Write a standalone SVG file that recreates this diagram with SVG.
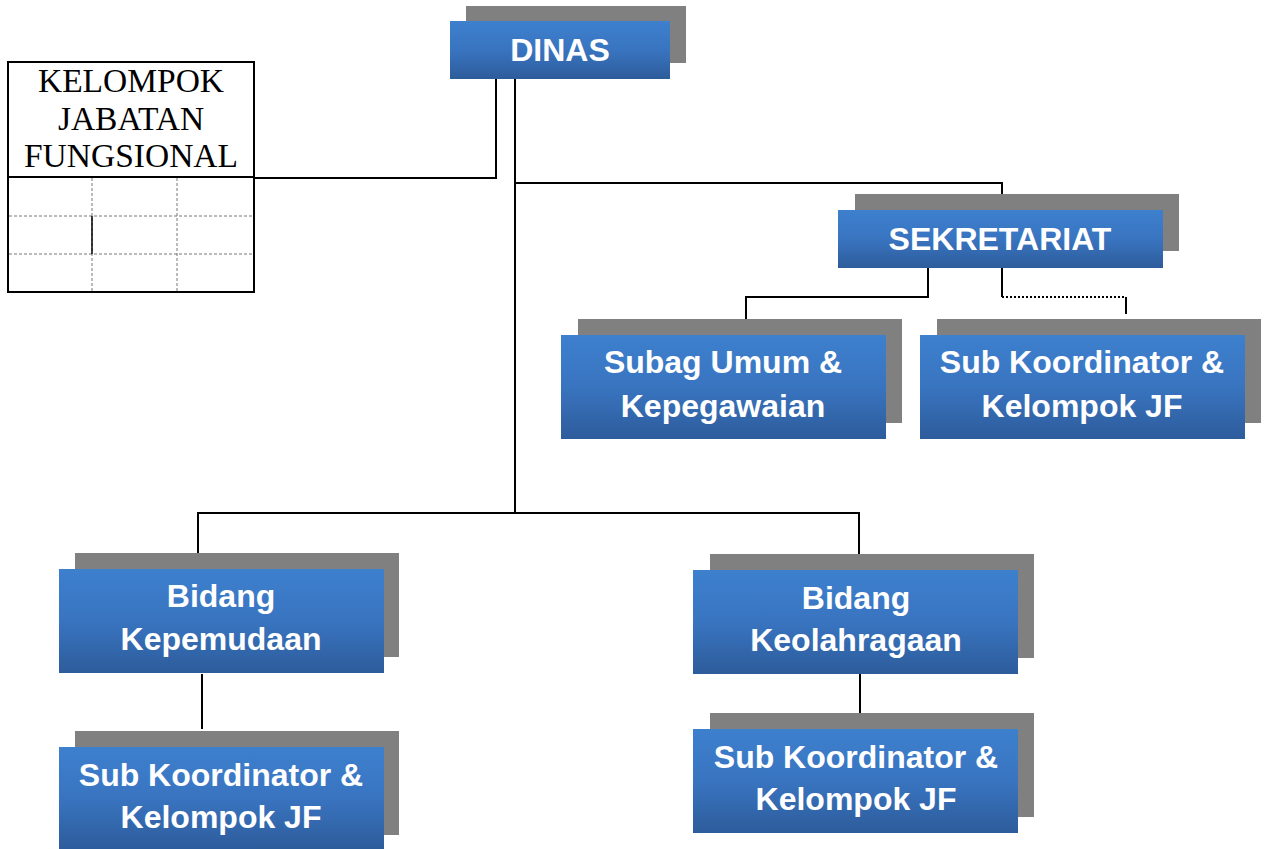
<svg xmlns="http://www.w3.org/2000/svg" width="1264" height="849" viewBox="0 0 1264 849">
<defs>
<linearGradient id="blue" x1="0" y1="0" x2="0" y2="1">
<stop offset="0" stop-color="#3d80ce"/>
<stop offset="0.5" stop-color="#3974c0"/>
<stop offset="1" stop-color="#2d5c9b"/>
</linearGradient>
</defs>
<style>
.sh{fill:#808080}
.bx{fill:url(#blue)}
.t{font-family:"Liberation Sans",Arial,sans-serif;font-weight:bold;font-size:32px;fill:#ffffff;text-anchor:middle}
.ln{stroke:#000;stroke-width:2;fill:none}
.dl{stroke:#000;stroke-width:2;fill:none;stroke-dasharray:2 2}
.grid{stroke:#777;stroke-width:1;stroke-dasharray:3 2;fill:none}
.st{font-family:"Liberation Serif","Times New Roman",serif;font-size:33.5px;fill:#000;text-anchor:middle}
</style>
<g id="connectors">
<path class="ln" d="M496 79 V178 H255"/>
<path class="ln" d="M515 79 V513"/>
<path class="ln" d="M515 183 H1002 V210"/>
<path class="ln" d="M928 268 V297 H746 V335"/>
<path class="ln" d="M1002 268 V297"/>
<path class="dl" d="M1002 297 H1126"/>
<path class="ln" d="M1126 297 V314"/>
<path class="ln" d="M198 569 V513 H859 V570"/>
<path class="ln" d="M202 674 V729"/>
<path class="ln" d="M860 674 V729"/>
</g>
<g id="kelompok-jf">
<rect x="8" y="62" width="246" height="230" fill="#fff" stroke="#000" stroke-width="2"/>
<line x1="8" y1="177" x2="254" y2="177" stroke="#000" stroke-width="2"/>
<line class="grid" x1="9" y1="216" x2="253" y2="216"/>
<line class="grid" x1="9" y1="254" x2="253" y2="254"/>
<line class="grid" x1="92" y1="178" x2="92" y2="291"/>
<line class="grid" x1="177" y1="178" x2="177" y2="291"/>
<line x1="92" y1="216" x2="92" y2="254" stroke="#000" stroke-width="1.5"/>
<text class="st" x="131" y="92">KELOMPOK</text>
<text class="st" x="131" y="130">JABATAN</text>
<text class="st" x="131" y="167">FUNGSIONAL</text>
</g>
<g id="dinas">
<rect class="sh" x="466" y="6" width="220" height="57"/>
<rect class="bx" x="450" y="21" width="220" height="58"/>
<text class="t" x="560" y="61">DINAS</text>
</g>
<g id="sekretariat">
<rect class="sh" x="855" y="194" width="324" height="57"/>
<rect class="bx" x="838" y="210" width="325" height="58"/>
<text class="t" x="1000" y="250">SEKRETARIAT</text>
</g>
<g id="subag-umum">
<rect class="sh" x="578" y="319" width="324" height="104"/>
<rect class="bx" x="561" y="335" width="325" height="104"/>
<text class="t" x="723" y="373">Subag Umum &amp;</text>
<text class="t" x="723" y="417">Kepegawaian</text>
</g>
<g id="subkoor-sekretariat">
<rect class="sh" x="937" y="319" width="324" height="104"/>
<rect class="bx" x="920" y="335" width="325" height="104"/>
<text class="t" x="1082" y="373">Sub Koordinator &amp;</text>
<text class="t" x="1082" y="417">Kelompok JF</text>
</g>
<g id="bidang-kepemudaan">
<rect class="sh" x="75" y="553" width="324" height="104"/>
<rect class="bx" x="59" y="569" width="325" height="104"/>
<text class="t" x="221" y="607">Bidang</text>
<text class="t" x="221" y="650">Kepemudaan</text>
</g>
<g id="bidang-keolahragaan">
<rect class="sh" x="710" y="554" width="324" height="104"/>
<rect class="bx" x="693" y="570" width="325" height="104"/>
<text class="t" x="856" y="609">Bidang</text>
<text class="t" x="856" y="651">Keolahragaan</text>
</g>
<g id="subkoor-kepemudaan">
<rect class="sh" x="75" y="731" width="324" height="104"/>
<rect class="bx" x="59" y="747" width="325" height="102"/>
<text class="t" x="221" y="786">Sub Koordinator &amp;</text>
<text class="t" x="221" y="828">Kelompok JF</text>
</g>
<g id="subkoor-keolahragaan">
<rect class="sh" x="710" y="713" width="324" height="104"/>
<rect class="bx" x="693" y="729" width="325" height="104"/>
<text class="t" x="856" y="768">Sub Koordinator &amp;</text>
<text class="t" x="856" y="810">Kelompok JF</text>
</g>
</svg>
